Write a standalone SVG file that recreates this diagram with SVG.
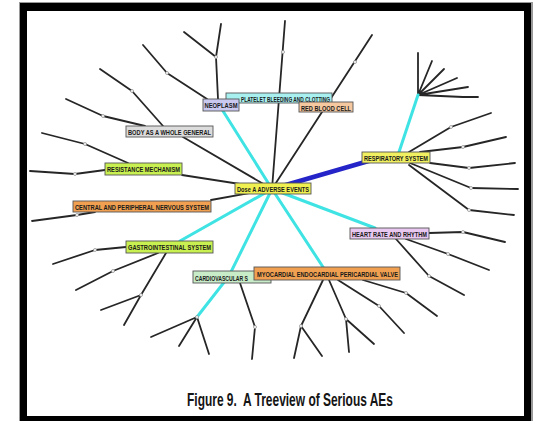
<svg xmlns="http://www.w3.org/2000/svg" width="536" height="421" viewBox="0 0 536 421">
<style>
.e{fill:none;stroke:#262626;stroke-width:1.8;stroke-linecap:round;stroke-linejoin:round}
.c{fill:none;stroke:#3fe3e3;stroke-width:3;stroke-linecap:round}
.b{fill:none;stroke:#2424c8;stroke-width:4.5;stroke-linecap:round}
.n{fill:#fff;stroke:#888;stroke-width:0.7}
.box{stroke:#555;stroke-width:0.9}
.t{font-family:"Liberation Sans Narrow","Liberation Sans",Arial,sans-serif;font-size:8px;font-weight:bold;fill:#1a1a1a}
.cap{font-family:"Liberation Sans Narrow","Liberation Sans",Arial,sans-serif;font-size:18px;font-weight:bold;fill:#151515}
</style>
<rect x="0" y="0" width="536" height="421" fill="#fff"/>
<g id="frame">
<rect x="19" y="2" width="514" height="419" fill="#999"/>
<rect x="20" y="3" width="511" height="418" fill="#000"/>
<rect x="27" y="11" width="497" height="405" fill="#fff"/>
</g>
<g id="connectors">
<path class="e" d="M272 189L285 21M272 189L372 35M272 189L183 137M272 189L182 175M272 189L211 200"/>
<path class="e" d="M218 99L216 57L221 24M216 57L184 32M207 99L167 73L143 45"/>
<path class="e" d="M163 126L132 91L100 69M145 126L103 116L66 99"/>
<path class="e" d="M105 170L75 174L30 171M128 163L85 144L42 133"/>
<path class="e" d="M95 212L77 215L32 221"/>
<path class="e" d="M126 247L95 250L53 264M158 253L113 271L76 290M166 253L141 295L124 325M141 295L101 310"/>
<path class="e" d="M197 317L151 337M197 317L179 346M197 317L209 354M240 283L255 327L252 359"/>
<path class="e" d="M323 280L301 326L294 358M301 326L322 356M329 280L346 319L349 352M346 319L374 344M338 280L379 306L404 333M363 280L406 293L437 316"/>
<path class="e" d="M429 233L463 232L505 242M406 239L448 254L489 270M396 239L429 276L464 295"/>
<path class="e" d="M418 95L418 53M418 95L432 61M418 95L444 69M418 95L457 78M418 95L468 87M418 95L463 97L478 97"/>
<path class="e" d="M409 152L451 127L491 113M420 152L463 147L506 137M430 163L469 168L515 163M410 163L471 188L518 189M409 165L469 210L514 215"/>
<path class="c" d="M272 189L223 111M272 189L180 241M272 189L229 276L197 317M272 189L323 267M272 189L375 228M399 152L418 95"/>
<path class="b" d="M272 189L372 160"/>
<g>
<circle class="n" cx="216" cy="57" r="1.5"/><circle class="n" cx="167" cy="73" r="1.5"/>
<circle class="n" cx="132" cy="91" r="1.5"/><circle class="n" cx="103" cy="116" r="1.5"/>
<circle class="n" cx="75" cy="174" r="1.5"/><circle class="n" cx="85" cy="144" r="1.5"/>
<circle class="n" cx="77" cy="215" r="1.5"/><circle class="n" cx="95" cy="250" r="1.5"/>
<circle class="n" cx="113" cy="271" r="1.5"/><circle class="n" cx="141" cy="295" r="1.5"/>
<circle class="n" cx="197" cy="317" r="1.5"/><circle class="n" cx="255" cy="327" r="1.5"/>
<circle class="n" cx="301" cy="326" r="1.5"/><circle class="n" cx="346" cy="319" r="1.5"/>
<circle class="n" cx="379" cy="306" r="1.5"/><circle class="n" cx="406" cy="293" r="1.5"/>
<circle class="n" cx="463" cy="232" r="1.5"/><circle class="n" cx="448" cy="254" r="1.5"/>
<circle class="n" cx="429" cy="276" r="1.5"/><circle class="n" cx="451" cy="127" r="1.5"/>
<circle class="n" cx="463" cy="147" r="1.5"/><circle class="n" cx="469" cy="168" r="1.5"/>
<circle class="n" cx="471" cy="188" r="1.5"/><circle class="n" cx="469" cy="210" r="1.5"/>
<circle class="n" cx="283" cy="52" r="1.5"/><circle class="n" cx="355" cy="62" r="1.5"/>
</g>
</g>
<g id="platelet"><rect class="box" x="226" y="93" width="106" height="10" fill="#a8f0f0"/><text class="t" x="241" y="101.5" textLength="89" lengthAdjust="spacingAndGlyphs">PLATELET BLEEDING AND CLOTTING</text></g>
<g id="neoplasm"><rect class="box" x="203" y="99" width="36" height="12" fill="#c8c8f0"/><text class="t" x="204.5" y="108" textLength="33" lengthAdjust="spacingAndGlyphs">NEOPLASM</text></g>
<g id="redbloodcell"><rect class="box" x="299" y="102" width="54" height="10" fill="#f5c8a0"/><text class="t" x="301" y="110.5" textLength="50" lengthAdjust="spacingAndGlyphs">RED BLOOD CELL</text></g>
<g id="body"><rect class="box" x="126" y="126" width="87" height="11" fill="#dcdcdc"/><text class="t" x="128" y="134.8" textLength="83" lengthAdjust="spacingAndGlyphs">BODY AS A WHOLE GENERAL</text></g>
<g id="resistance"><rect class="box" x="105" y="163" width="77" height="12" fill="#c8f050"/><text class="t" x="107" y="172" textLength="73" lengthAdjust="spacingAndGlyphs">RESISTANCE MECHANISM</text></g>
<g id="cns"><rect class="box" x="73" y="201" width="138" height="11" fill="#f0a050"/><text class="t" x="75" y="209.8" textLength="134" lengthAdjust="spacingAndGlyphs">CENTRAL AND PERIPHERAL NERVOUS SYSTEM</text></g>
<g id="gastro"><rect class="box" x="126" y="241" width="87" height="12" fill="#c8f050"/><text class="t" x="128" y="250" textLength="83" lengthAdjust="spacingAndGlyphs">GASTROINTESTINAL SYSTEM</text></g>
<g id="cardio"><rect class="box" x="193" y="271" width="78" height="12" fill="#c8ecc8"/><text class="t" x="195" y="280.5" textLength="53" lengthAdjust="spacingAndGlyphs">CARDIOVASCULAR S</text></g>
<g id="myocardial"><rect class="box" x="254" y="267" width="146" height="13" fill="#f0a050"/><text class="t" x="257" y="276.5" textLength="141" lengthAdjust="spacingAndGlyphs">MYOCARDIAL ENDOCARDIAL PERICARDIAL VALVE</text></g>
<g id="heart"><rect class="box" x="350" y="228" width="79" height="11" fill="#e8c8f0"/><text class="t" x="352" y="236.8" textLength="75" lengthAdjust="spacingAndGlyphs">HEART RATE AND RHYTHM</text></g>
<g id="respiratory"><rect class="box" x="362" y="152" width="68" height="11" fill="#f0f060"/><text class="t" x="364" y="160.8" textLength="64" lengthAdjust="spacingAndGlyphs">RESPIRATORY SYSTEM</text></g>
<g id="root"><rect class="box" x="235" y="183" width="76" height="11" fill="#f0f050"/><text class="t" x="237" y="191.8" textLength="72" lengthAdjust="spacingAndGlyphs">Dose A ADVERSE EVENTS</text></g>
<text class="cap" x="187" y="406" textLength="206" lengthAdjust="spacingAndGlyphs" xml:space="preserve">Figure 9.  A Treeview of Serious AEs</text>
</svg>
